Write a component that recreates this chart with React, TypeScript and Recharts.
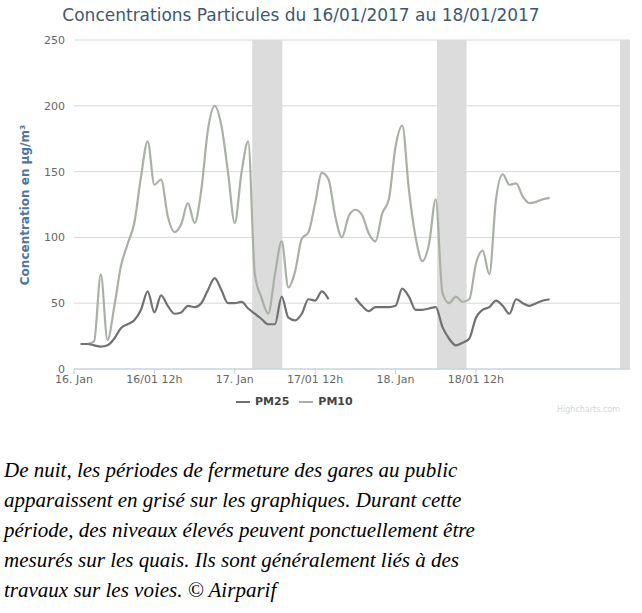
import {
  LineChart,
  Line,
  XAxis,
  YAxis,
  CartesianGrid,
  ReferenceArea,
} from 'recharts';

// hours since 16/01/2017 00:00, one reading per hour
const START_HOUR = 1;

const PM25 = [
  19, 19, 18, 17, 18, 23, 31, 34, 37, 45, 59, 43, 56, 48, 42, 43, 48, 47, 50, 60,
  69, 60, 50, 50, 51, 46, 42, 38, 34, 34, 55, 39, 37, 42, 53, 52, 59, 53, null, null,
  null, 54, 48, 44, 47, 47, 47, 48, 61, 55, 45, 45, 46, 47, 32, 23, 18, 20, 23, 39,
  45, 47, 52, 48, 42, 53, 50, 48, 50, 52, 53,
];

const PM10 = [
  19, 19, 21, 72, 22, 47, 78, 95, 111, 146, 173, 140, 144, 116, 104, 110, 126, 111, 136, 182,
  200, 185, 149, 111, 149, 173, 72, 54, 42, 72, 97, 62, 74, 99, 104, 126, 149, 144, 116, 100,
  116, 121, 117, 103, 97, 118, 129, 169, 185, 136, 100, 82, 95, 129, 58, 50, 55, 51, 53, 80,
  90, 72, 129, 148, 140, 141, 131, 126, 127, 129, 130,
];

const X_TICKS = [0, 12, 24, 36, 48, 60];
const X_LABELS = ['16. Jan', '16/01 12h', '17. Jan', '17/01 12h', '18. Jan', '18/01 12h'];
const Y_TICKS = [0, 50, 100, 150, 200, 250];

// station closure periods (grey bands)
const NIGHT_BANDS = [
  [26.6, 31.1],
  [54.2, 58.6],
  [81.5, 83],
];

const COLORS = {
  pm25: '#717171',
  pm10: '#a9b1a6',
};

const data = PM25.map((v, i) => ({
  hour: START_HOUR + i,
  pm25: v,
  pm10: PM10[i],
}));

const FONT = '"DejaVu Sans", Verdana, sans-serif';

export default function App() {
  return (
    <div style={{ position: 'absolute', left: 0, top: 0, width: 642, height: 613, background: '#fff' }}>
      {/* Title */}
      <div style={{
        position: 'absolute', left: 0, top: 5, width: 602, textAlign: 'center',
        fontFamily: FONT, fontSize: 17, color: '#3e576f',
      }}>
        Concentrations Particules du 16/01/2017 au 18/01/2017
      </div>

      {/* Y axis title */}
      <div style={{
        position: 'absolute', left: 25, top: 205, transform: 'translate(-50%, -50%) rotate(-90deg)',
        whiteSpace: 'nowrap', fontFamily: FONT, fontSize: 12, fontWeight: 700, color: '#4d759e',
      }}>
        Concentration en µg/m³
      </div>

      <div style={{ position: 'absolute', left: 0, top: 0 }}>
        <LineChart
          width={642}
          height={420}
          data={data}
          margin={{ top: 40, right: 12, left: 0, bottom: 31 }}
        >
          <CartesianGrid stroke="#d8d8d8" vertical={false} />
          {NIGHT_BANDS.map(([a, b], i) => (
            <ReferenceArea key={i} x1={a} x2={b} fill="#dcdcdc" fillOpacity={1} stroke="none" ifOverflow="hidden" />
          ))}
          <XAxis
            type="number"
            dataKey="hour"
            domain={[0, 83]}
            ticks={X_TICKS}
            tickFormatter={(v) => X_LABELS[X_TICKS.indexOf(v)]}
            allowDataOverflow
            height={20}
            axisLine={{ stroke: '#c0d0e0' }}
            tickLine={{ stroke: '#c0d0e0' }}
            tickSize={5}
            tickMargin={1}
            tick={{ fontSize: 11, fill: '#666', fontFamily: FONT }}
          />
          <YAxis
            domain={[0, 250]}
            ticks={Y_TICKS}
            width={74}
            axisLine={false}
            tickLine={false}
            tickSize={0}
            tickMargin={9}
            tick={{ fontSize: 11, fill: '#666', fontFamily: FONT }}
          />
          <Line
            type="monotone"
            dataKey="pm10"
            stroke={COLORS.pm10}
            strokeWidth={2.2}
            dot={false}
            isAnimationActive={false}
          />
          <Line
            type="monotone"
            dataKey="pm25"
            stroke={COLORS.pm25}
            strokeWidth={2.2}
            dot={false}
            connectNulls={false}
            isAnimationActive={false}
          />
        </LineChart>
      </div>

      {/* Legend */}
      <div style={{
        position: 'absolute', left: 236, top: 395, display: 'flex', alignItems: 'center',
        fontFamily: FONT, fontSize: 11, fontWeight: 700, color: '#444',
      }}>
        <span style={{ display: 'inline-block', width: 14, height: 2, background: COLORS.pm25, marginRight: 5 }} />
        <span>PM25</span>
        <span style={{ display: 'inline-block', width: 14, height: 2, background: COLORS.pm10, marginLeft: 10, marginRight: 5 }} />
        <span>PM10</span>
      </div>

      {/* Credits */}
      <div style={{
        position: 'absolute', left: 557, top: 405, fontFamily: FONT, fontSize: 8, color: '#d6d6d6',
      }}>
        Highcharts.com
      </div>

      {/* Caption */}
      <div style={{
        position: 'absolute', left: 4, top: 455, fontFamily: '"Liberation Serif", serif',
        fontStyle: 'italic', fontSize: 21, lineHeight: '30px', color: '#000',
      }}>
        <div>De nuit, les périodes de fermeture des gares au public</div>
        <div>apparaissent en grisé sur les graphiques. Durant cette</div>
        <div>période, des niveaux élevés peuvent ponctuellement être</div>
        <div>mesurés sur les quais. Ils sont généralement liés à des</div>
        <div>travaux sur les voies. © Airparif</div>
      </div>
    </div>
  );
}
